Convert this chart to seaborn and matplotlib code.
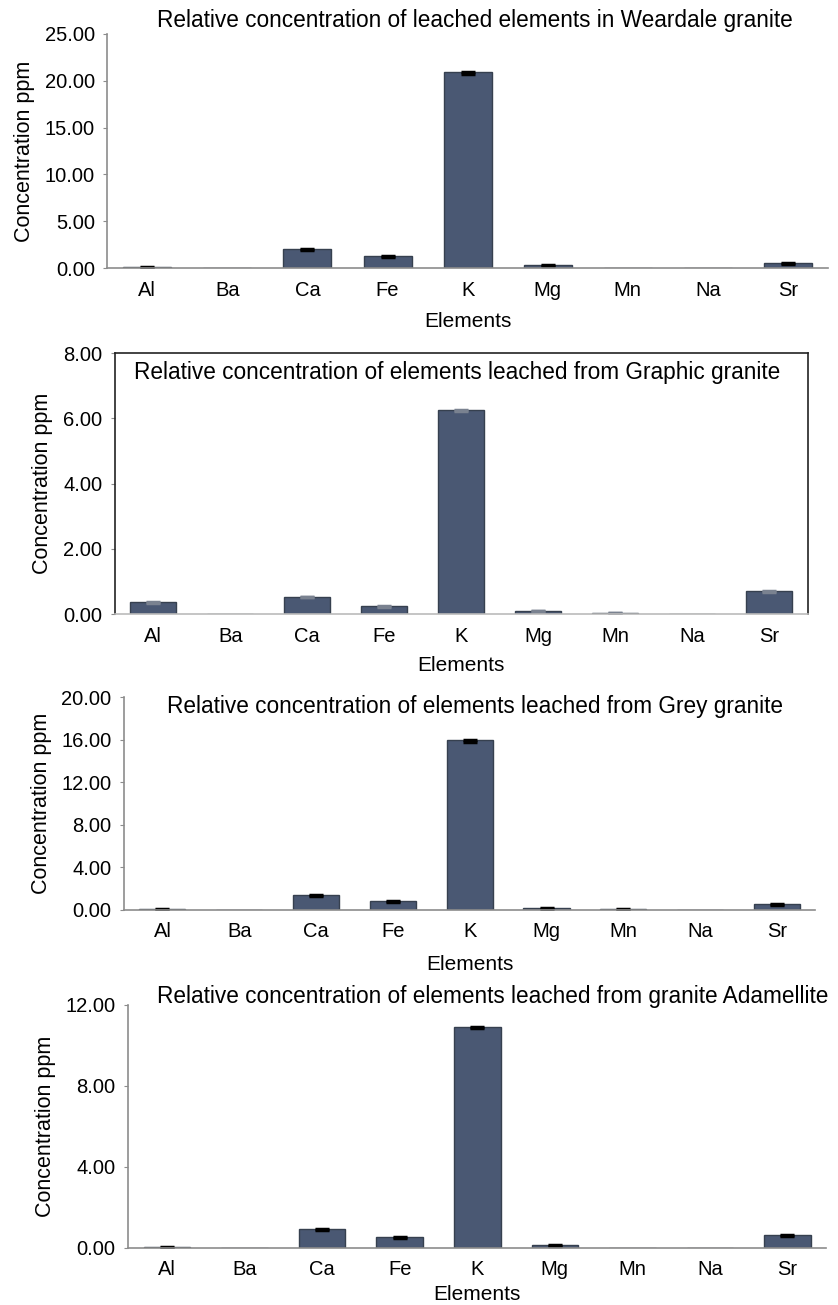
import numpy as np
import pandas as pd
import matplotlib
matplotlib.use("Agg")
import matplotlib.pyplot as plt
import seaborn as sns

sns.set_style("white")
plt.rcParams['font.family'] = ['Liberation Sans', 'DejaVu Sans']
plt.rcParams['text.color'] = 'black'
plt.rcParams['axes.labelcolor'] = 'black'
plt.rcParams['xtick.color'] = 'black'
plt.rcParams['ytick.color'] = 'black'

elements = ["Al", "Ba", "Ca", "Fe", "K", "Mg", "Mn", "Na", "Sr"]

weardale = [0.10, 0.0, 2.05, 1.25, 20.90, 0.35, 0.0, 0.0, 0.55]
weardale_err = [0.08, 0.0, 0.10, 0.12, 0.15, 0.08, 0.0, 0.0, 0.10]

graphic = [0.37, 0.0, 0.52, 0.23, 6.25, 0.09, 0.04, 0.0, 0.70]
graphic_err = [0.02, 0.0, 0.01, 0.01, 0.02, 0.01, 0.01, 0.0, 0.02]

grey = [0.05, 0.0, 1.40, 0.85, 15.95, 0.15, 0.05, 0.0, 0.55]
grey_err = [0.06, 0.0, 0.10, 0.12, 0.15, 0.10, 0.05, 0.0, 0.10]

adamellite = [0.04, 0.0, 0.95, 0.52, 10.90, 0.15, 0.0, 0.0, 0.65]
adamellite_err = [0.04, 0.0, 0.04, 0.05, 0.05, 0.04, 0.0, 0.0, 0.05]

titles = [
    "Relative concentration of leached elements in Weardale granite",
    "Relative concentration of elements leached from Graphic granite",
    "Relative concentration of elements leached from Grey granite",
    "Relative concentration of elements leached from granite Adamellite",
]
series = [weardale, graphic, grey, adamellite]
errors = [weardale_err, graphic_err, grey_err, adamellite_err]
yticks = [
    [0, 5, 10, 15, 20, 25],
    [0, 2, 4, 6, 8],
    [0, 4, 8, 12, 16, 20],
    [0, 4, 8, 12],
]
# axes rectangles [left, bottom, width, height] in figure fraction
rects = [
    [0.128, 0.7946, 0.860, 0.1794],
    [0.137, 0.5295, 0.827, 0.2000],
    [0.148, 0.3027, 0.825, 0.1632],
    [0.153, 0.0437, 0.833, 0.1862],
]
title_x = [475, 457, 475, 493]   # centre in figure pixels
title_y = [20, 372, 707, 997]
xlabel_pad = [9, 7.5, 10, 4]

bar_color = "#4a5873"
edge_color = "#36404f"
axis_color = "#8c8c8c"

W, H = 838, 1305
fig = plt.figure(figsize=(W / 100, H / 100), dpi=100)

for i in range(4):
    ax = fig.add_axes(rects[i])
    df = pd.DataFrame({"Element": elements, "Value": series[i]})
    sns.barplot(data=df, x="Element", y="Value", ax=ax, color=bar_color,
                width=0.6, saturation=1, edgecolor=edge_color, linewidth=1.0,
                errorbar=None)
    pos = np.arange(len(elements))
    vals = np.array(series[i])
    errs = np.array(errors[i])
    mask = errs > 0
    ecol = "black" if i != 1 else "#7a8290"
    ax.errorbar(pos[mask], vals[mask] - errs[mask] * 0.5, yerr=errs[mask] * 0.5,
                fmt="none", ecolor=ecol, elinewidth=2.5, capsize=5, capthick=2.5)
    ax.set_xlim(-0.5, len(elements) - 0.5)
    ax.set_ylim(0, yticks[i][-1])
    ax.set_yticks(yticks[i])
    ax.set_yticklabels([f"{t:.2f}" for t in yticks[i]])
    ax.tick_params(axis="y", labelsize=14.5, length=3, width=0.8, color=axis_color, pad=6, left=True)
    ax.tick_params(axis="x", labelsize=14.5, length=0, pad=9)
    ax.set_xlabel("Elements", fontsize=15, labelpad=xlabel_pad[i])
    ax.set_ylabel("Concentration ppm", fontsize=15.5, labelpad=7)
    for side in ["left", "bottom", "top", "right"]:
        ax.spines[side].set_color(axis_color)
        ax.spines[side].set_linewidth(1.2)
    if i == 1:
        ax.spines["left"].set_color("#222222")
        ax.spines["top"].set_color("#222222")
        ax.spines["right"].set_color("#222222")
        ax.spines["bottom"].set_color("#bbbbbb")
    else:
        ax.spines["top"].set_visible(False)
        ax.spines["right"].set_visible(False)
    fig.text(title_x[i] / W, 1 - title_y[i] / H, titles[i],
             ha="center", va="center", fontsize=16.3)

fig.savefig("out.png", dpi=100)
